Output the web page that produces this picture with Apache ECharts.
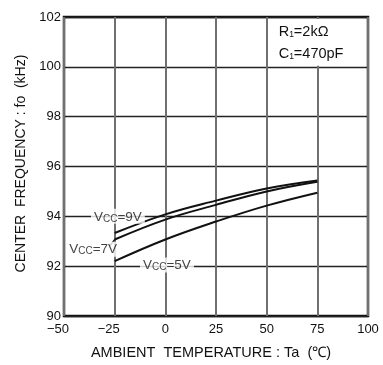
<!DOCTYPE html>
<html><head><meta charset="utf-8">
<script src="https://cdn.jsdelivr.net/npm/echarts@6/dist/echarts.min.js"></script>
<style>html,body{margin:0;padding:0;background:#fff}#c{width:383px;height:365px}</style>
</head><body><div id="c"></div>
<script>
const temps = [-25, 0, 25, 50, 75];
const vcc9 = [93.33, 94.08, 94.63, 95.12, 95.44];
const vcc7 = [93.07, 93.87, 94.46, 95.0, 95.39];
const vcc5 = [92.2, 93.07, 93.79, 94.43, 94.95];
const xTicks = [-50, -25, 0, 25, 50, 75, 100];
const yTicks = [90, 92, 94, 96, 98, 100, 102];
const curveLabels = ['9', '7', '5'];

const F = 'Liberation Sans, Arial, Helvetica, sans-serif';
const pair = a => temps.map((t, i) => [t, a[i]]);
const rich = {
  v: { fontSize: 13.5, fontFamily: F, color: '#111', lineHeight: 15, verticalAlign: 'bottom' },
  s: { fontSize: 10, fontFamily: F, color: '#111', lineHeight: 11.5, verticalAlign: 'bottom' }
};
const lineStyle = { color: '#111', width: 2 };
const labelPts = [[-23.4, 94.0], [-35.6, 92.68], [0.8, 92.05]];

const chart = echarts.init(document.getElementById('c'), null, { renderer: 'canvas' });
chart.setOption({
  animation: false,
  backgroundColor: '#fff',
  grid: { left: 64, right: 15, top: 17, bottom: 46, show: true, borderColor: '#111', borderWidth: 2.5 },
  xAxis: {
    type: 'value', min: -50, max: 100, interval: 25,
    axisLine: { show: false }, axisTick: { show: false },
    splitLine: { show: true, lineStyle: { color: '#707070', width: 2 } },
    axisLabel: { color: '#111', fontSize: 13, fontFamily: F, margin: 7,
      formatter: v => (v < 0 ? '{n|\u2212' + Math.abs(v) + '}' : String(v)),
      rich: { n: { fontSize: 13, fontFamily: F, color: '#111', padding: [0, 12, 0, 0] } } },
    name: 'AMBIENT  TEMPERATURE : Ta  (\u2103)', nameLocation: 'middle', nameGap: 29,
    nameTextStyle: { color: '#111', fontSize: 14.5, fontFamily: F, padding: [0, 10, 0, 0] }
  },
  yAxis: {
    type: 'value', min: 90, max: 102, interval: 2,
    axisLine: { show: false }, axisTick: { show: false },
    splitLine: { show: true, lineStyle: { color: '#222', width: 1.3 } },
    axisLabel: { color: '#111', fontSize: 13, fontFamily: F, margin: 3 },
    name: 'CENTER  FREQUENCY : fo  (kHz)', nameLocation: 'middle', nameGap: 35,
    nameTextStyle: { color: '#111', fontSize: 14, fontFamily: F, padding: [0, 0, 0, 6] }
  },
  series: [
    { type: 'line', data: pair(vcc9), smooth: 0.4, symbol: 'none', lineStyle: lineStyle, z: 3 },
    { type: 'line', data: pair(vcc7), smooth: 0.4, symbol: 'none', lineStyle: lineStyle, z: 3 },
    { type: 'line', data: pair(vcc5), smooth: 0.4, symbol: 'none', lineStyle: lineStyle, z: 3 },
    { type: 'line', data: [[-27.4, 92.8], [-25, 93.07]], symbol: 'none', lineStyle: { color: '#111', width: 1.3 }, z: 3 },
    { type: 'scatter', symbolSize: 1, itemStyle: { color: 'rgba(0,0,0,0)' }, z: 4,
      data: labelPts.map((p, i) => ({ value: p, name: curveLabels[i] })),
      label: { show: true, position: 'inside', formatter: p => '{v|V}{s|CC}{v|=' + p.name + 'V}',
        rich: rich, backgroundColor: '#fff', padding: [0, 3, 0, 3] } }
  ]
});
// white box with the component annotation in the top-right cell
const p1 = chart.convertToPixel({ gridIndex: 0 }, [50, 102]);
const p2 = chart.convertToPixel({ gridIndex: 0 }, [100, 100]);
chart.setOption({ graphic: [
  { type: 'rect', z: 100, silent: true,
    shape: { x: p1[0] + 1.5, y: p1[1] + 2, width: p2[0] - p1[0] - 4, height: p2[1] - p1[1] - 3 },
    style: { fill: '#fff' } },
  { type: 'text', z: 101, silent: true, left: p1[0] + 12, top: p1[1] + 7,
    style: {
      text: '{v|R}{s|1}{v|=2k\u03a9}\n{v|C}{s|1}{v|=470pF}',
      rich: {
        v: { fontSize: 14.5, fontFamily: F, fill: '#111', lineHeight: 22, verticalAlign: 'bottom' },
        s: { fontSize: 8.5, fontFamily: F, fill: '#111', lineHeight: 18, verticalAlign: 'bottom' }
      } } }
] });
</script></body></html>
